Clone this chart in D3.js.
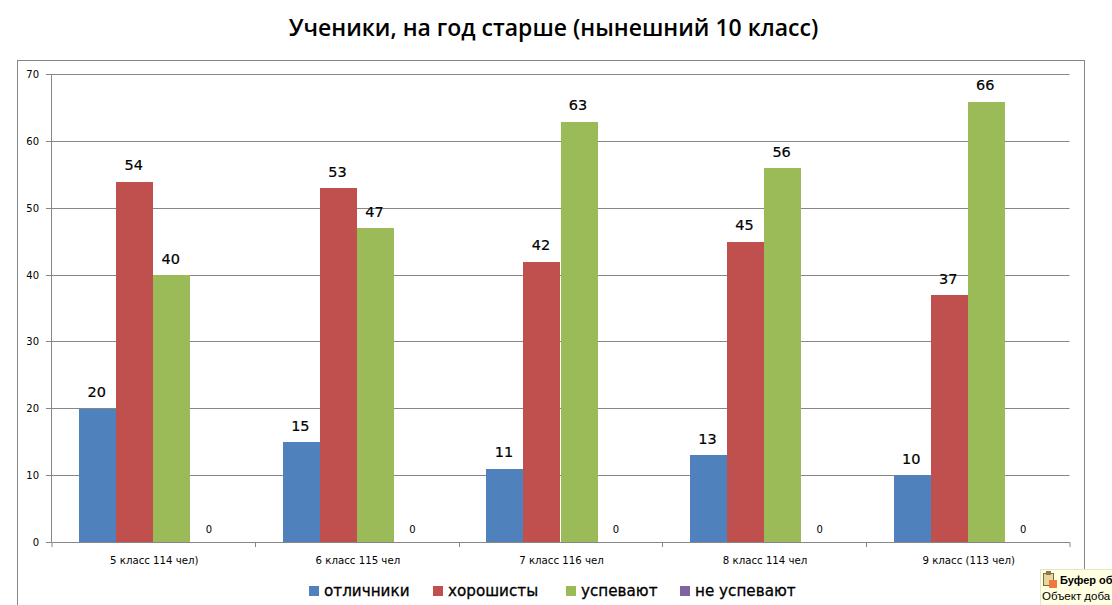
<!DOCTYPE html>
<html>
<head>
<meta charset="utf-8">
<script src="https://cdn.jsdelivr.net/npm/d3@7"></script>
<style>
html, body { margin: 0; padding: 0; background: #fff; overflow: hidden; }
svg { display: block; }
text { font-family: "DejaVu Sans", sans-serif; fill: #000; }
</style>
</head>
<body>
<svg id="chart" width="1112" height="605"></svg>
<script>
var categories = ['5 класс 114 чел)', '6 класс 115 чел', '7 класс 116 чел', '8 класс 114 чел', '9 класс (113 чел)'];
var seriesNames = ['отличники', 'хорошисты', 'успевают', 'не успевают'];
var otlichniki = [20, 15, 11, 13, 10];
var horoshisty = [54, 53, 42, 45, 37];
var uspevayut = [40, 47, 63, 56, 66];
var neUspevayut = [0, 0, 0, 0, 0];
var yTicks = [0, 10, 20, 30, 40, 50, 60, 70];
var colors = ['#4f81bd', '#c0504d', '#9bbb59', '#8064a2'];

var seriesValues = [otlichniki, horoshisty, uspevayut, neUspevayut];
var svg = d3.select('#chart');
var grey = '#868686';

var x0 = d3.scaleBand().domain(categories).range([51.5, 1069.5]);
var x1 = d3.scaleBand().domain(seriesNames).range([0, x0.bandwidth()]).paddingOuter(0.75).paddingInner(0);
var y = d3.scaleLinear().domain([0, 70]).rangeRound([542, 74]);
// bar tops start one pixel under the gridline row
var yBar = d3.scaleLinear().domain([0, 70]).rangeRound([542, 75]);

// outer chart frame
svg.append('rect')
    .attr('x', 17.5)
    .attr('y', 60.5)
    .attr('width', 1067)
    .attr('height', 560)
    .style('fill', 'white')
    .style('stroke', grey);

svg.append('text')
    .attr('x', 553.5)
    .attr('y', 36)
    .attr('text-anchor', 'middle')
    .style('font-family', '"Open Sans", sans-serif')
    .style('font-size', '23px')
    .style('font-weight', '600')
    .text('Ученики, на год старше (нынешний 10 класс)');

// gridlines
svg.append('g')
    .selectAll('line')
    .data(yTicks.filter(function(d) { return d > 0; }))
    .join('line')
    .attr('x1', 51.5)
    .attr('x2', 1069.5)
    .attr('y1', function(d) { return y(d) + 0.5; })
    .attr('y2', function(d) { return y(d) + 0.5; })
    .style('stroke', grey);

// bars
seriesValues.forEach(function(values, s) {
    svg.append('g')
        .selectAll('rect')
        .data(values)
        .join('rect')
        .attr('x', function(d, i) { return Math.round(x0(categories[i]) + x1(seriesNames[s])); })
        .attr('y', function(d) { return yBar(d); })
        .attr('width', Math.round(x1.bandwidth()))
        .attr('height', function(d) { return yBar(0) - yBar(d); })
        .style('fill', colors[s]);

    svg.append('g')
        .selectAll('text')
        .data(values)
        .join('text')
        .attr('x', function(d, i) { return x0(categories[i]) + x1(seriesNames[s]) + x1.bandwidth() / 2 - (d === 0 ? 0 : 1); })
        .attr('y', function(d) { return d === 0 ? y(0) - 9 : y(d) - 11; })
        .attr('text-anchor', 'middle')
        .style('font-size', function(d) { return d === 0 ? '10px' : '14.5px'; })
        .style('stroke', function(d) { return d === 0 ? 'none' : '#000'; })
        .style('stroke-width', 0.2)
        .text(function(d) { return d; });
});

// y axis
var yAxis = d3.axisLeft(y).tickValues(yTicks).tickSize(5).tickPadding(7);
var yG = svg.append('g').attr('transform', 'translate(51,0)').call(yAxis);
yG.select('.domain').style('stroke', grey);
yG.selectAll('line').style('stroke', grey);
yG.selectAll('text').style('font-family', '"DejaVu Sans", sans-serif').style('font-size', '10px');

// x axis
var xAxis = d3.axisBottom(x0).tickValues([]).tickSizeOuter(5);
var xG = svg.append('g').attr('transform', 'translate(0,542)').call(xAxis);
xG.select('.domain').style('stroke', grey);
xG.selectAll('.sep')
    .data(d3.range(1, categories.length))
    .join('line')
    .attr('class', 'sep')
    .attr('x1', function(d) { return Math.round(x0(categories[d])) + 0.5; })
    .attr('x2', function(d) { return Math.round(x0(categories[d])) + 0.5; })
    .attr('y1', 0)
    .attr('y2', 5)
    .style('stroke', grey);

svg.append('g')
    .selectAll('text')
    .data(categories)
    .join('text')
    .attr('x', function(d) { return x0(d) + x0.bandwidth() / 2 + 1; })
    .attr('y', 564)
    .attr('text-anchor', 'middle')
    .style('font-size', '10.2px')
    .text(function(d) { return d; });

// legend
var legendX = d3.scaleOrdinal().domain(seriesNames).range([309, 433, 566, 680]);
var legend = svg.append('g')
    .selectAll('g')
    .data(seriesNames)
    .join('g')
    .attr('transform', function(d) { return 'translate(' + legendX(d) + ',586)'; });
legend.append('rect')
    .attr('width', 10)
    .attr('height', 10)
    .style('fill', function(d, i) { return colors[i]; });
legend.append('text')
    .attr('x', 15)
    .attr('y', 10)
    .style('font-size', '15.2px')
    .style('stroke', '#000')
    .style('stroke-width', 0.3)
    .text(function(d) { return d; });

// clipboard popup in the corner of the screenshot, cut off by the picture edge
var popup = svg.append('g').attr('transform', 'translate(1040,569)');
popup.append('rect')
    .attr('x', 0.5)
    .attr('y', 0.5)
    .attr('width', 80)
    .attr('height', 40)
    .style('fill', '#ffffe1')
    .style('stroke', '#e4e4cc');
popup.append('rect')
    .attr('x', 3.5)
    .attr('y', 4.5)
    .attr('width', 10)
    .attr('height', 12)
    .style('fill', '#e8d8a0')
    .style('stroke', '#7a6a3c');
popup.append('rect')
    .attr('x', 6)
    .attr('y', 2)
    .attr('width', 5)
    .attr('height', 4)
    .style('fill', '#8a7a50');
popup.append('rect')
    .attr('x', 9)
    .attr('y', 11)
    .attr('width', 8)
    .attr('height', 8)
    .style('fill', '#f07840');
popup.append('text')
    .attr('x', 20)
    .attr('y', 15)
    .style('font-family', '"Liberation Sans", sans-serif')
    .style('font-size', '11px')
    .style('font-weight', 'bold')
    .text('Буфер об');
popup.append('text')
    .attr('x', 2)
    .attr('y', 31)
    .style('font-family', '"Liberation Sans", sans-serif')
    .style('font-size', '11.5px')
    .text('Объект доба');
</script>
</body>
</html>
